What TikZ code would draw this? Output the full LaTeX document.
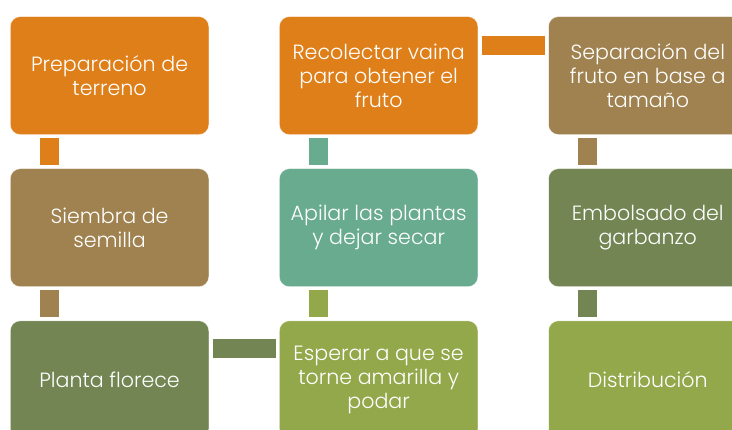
\documentclass[tikz,border=0pt]{standalone}
\usepackage{fontspec}
\setmainfont{Poppins Light}
\usetikzlibrary{positioning}
\definecolor{stepOrange}{HTML}{DF7F1A}
\definecolor{stepTan}{HTML}{A08250}
\definecolor{stepTeal}{HTML}{68AB8F}
\definecolor{stepOlive}{HTML}{728552}
\definecolor{stepLime}{HTML}{93A84B}

\begin{document}
\begin{tikzpicture}[
  box/.style={rounded corners=10pt, draw=white, draw opacity=0.6, line width=0.6pt, text=white, align=center,
    minimum width=198.5pt, minimum height=118pt, inner sep=4pt, font=\fontsize{20.6}{24}\selectfont},
  bar/.style={line width=19pt, shorten <=3.5pt, shorten >=3.5pt}
]
\useasboundingbox (0,0) rectangle (732pt,-430pt);
\clip (0,0) rectangle (732pt,-430pt);
\node[box, fill=stepOrange, anchor=north west] (prep) at (10pt,-16.3pt) {Preparación de\\terreno};
\node[box, fill=stepTan, below=33.5pt of prep] (siembra) {Siembra de\\semilla};
\node[box, fill=stepOlive, below=33.5pt of siembra] (florece) {Planta florece};
\node[box, fill=stepLime, right=70pt of florece] (esperar) {Esperar a que se\\torne amarilla y\\podar};
\node[box, fill=stepTeal, above=33.5pt of esperar] (apilar) {Apilar las plantas\\y dejar secar};
\node[box, fill=stepOrange, above=33.5pt of apilar] (recolectar) {Recolectar vaina\\para obtener el\\fruto};
\node[box, fill=stepTan, right=70pt of recolectar] (separar) {Separación del\\fruto en base a\\tamaño};
\node[box, fill=stepOlive, below=33.5pt of separar] (embolsar) {Embolsado del\\garbanzo};
\node[box, fill=stepLime, below=33.5pt of embolsar] (distrib) {Distribución};

\draw[bar, stepOrange] ([xshift=39.5pt]prep.south west) -- ([xshift=39.5pt]siembra.north west);
\draw[bar, stepTan] ([xshift=39.5pt]siembra.south west) -- ([xshift=39.5pt]florece.north west);
\draw[bar, stepOlive] ([yshift=-28pt]florece.north east) -- ([yshift=-28pt]esperar.north west);
\draw[bar, stepLime] ([xshift=39.5pt]esperar.north west) -- ([xshift=39.5pt]apilar.south west);
\draw[bar, stepTeal] ([xshift=39.5pt]apilar.north west) -- ([xshift=39.5pt]recolectar.south west);
\draw[bar, stepOrange] ([yshift=-29pt]recolectar.north east) -- ([yshift=-29pt]separar.north west);
\draw[bar, stepTan] ([xshift=39.5pt]separar.south west) -- ([xshift=39.5pt]embolsar.north west);
\draw[bar, stepOlive] ([xshift=39.5pt]embolsar.south west) -- ([xshift=39.5pt]distrib.north west);
\end{tikzpicture}
\end{document}
